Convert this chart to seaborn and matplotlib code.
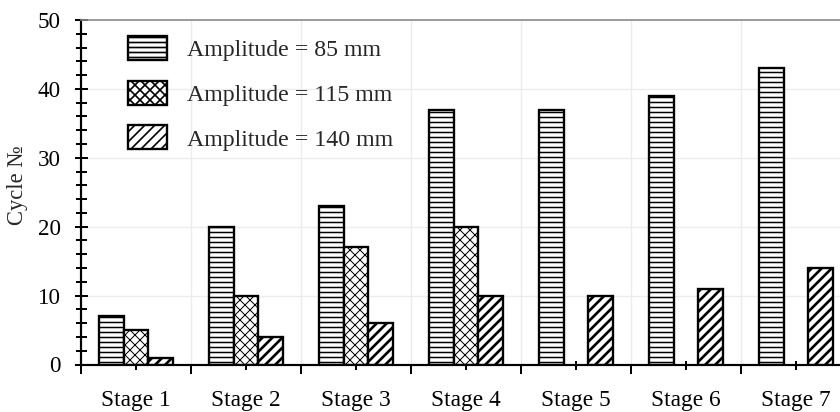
import numpy as np
import pandas as pd
import matplotlib
matplotlib.use("Agg")
import matplotlib.pyplot as plt
from matplotlib.ticker import MultipleLocator, FixedLocator
import seaborn as sns

# Cycle counts per loading stage for each amplitude
stages = ["Stage 1", "Stage 2", "Stage 3", "Stage 4", "Stage 5", "Stage 6", "Stage 7"]
amplitudes = ["Amplitude = 85 mm", "Amplitude = 115 mm", "Amplitude = 140 mm"]
cycles_85 = [7, 20, 23, 37, 37, 39, 43]
cycles_115 = [5, 10, 17, 20, np.nan, np.nan, np.nan]
cycles_140 = [1, 4, 6, 10, 10, 11, 14]
y_ticks = [0, 10, 20, 30, 40, 50]

hatches = ["----", "xxxx", "////"]
hatch_widths = [0.9, 0.6, 1.6]

df = pd.DataFrame({
    "stage": stages * 3,
    "amp": [amplitudes[0]] * 7 + [amplitudes[1]] * 7 + [amplitudes[2]] * 7,
    "cycles": cycles_85 + cycles_115 + cycles_140,
}).dropna()

sns.set_theme(style="white")
plt.rcParams["font.family"] = ["Liberation Serif", "DejaVu Serif"]
plt.rcParams["hatch.linewidth"] = 1.0
plt.rcParams["hatch.color"] = "black"

fig = plt.figure(figsize=(7.0, 412 / 120), dpi=120)
ax = fig.add_axes([81 / 840, 47.5 / 412, 770 / 840, 344.5 / 412])

sns.barplot(data=df, x="stage", y="cycles", hue="amp", order=stages,
            hue_order=amplitudes, palette=["white"] * 3, saturation=1,
            edgecolor="black", linewidth=1.4, width=0.667, legend=False,
            errorbar=None, ax=ax)

for cont, h, hw in zip(ax.containers, hatches, hatch_widths):
    for p in cont.patches:
        p.set_hatch(h)
        p.set_edgecolor("black")
        if hasattr(p, "set_hatch_linewidth"):
            p.set_hatch_linewidth(hw)

ax.set_xlim(-0.5, len(stages) - 0.5)
ax.set_ylim(0, 50)
ax.set_yticks(y_ticks)
ax.yaxis.set_minor_locator(MultipleLocator(2))
ax.xaxis.set_minor_locator(FixedLocator(np.arange(len(stages) + 1) - 0.5))

ax.set_xlabel("")
ax.set_ylabel("Cycle №", fontsize=13.5)
ax.yaxis.set_label_coords(-0.069, 0.52)

ax.tick_params(axis="x", which="major", direction="inout", length=5.4,
               width=1.2, color="black", pad=12.6, labelsize=14,
               labelcolor="black")
ax.tick_params(axis="x", which="minor", direction="out", length=5.4,
               width=1.2, color="black")
ax.tick_params(axis="y", which="major", direction="inout", length=7.8,
               width=1.2, color="black", pad=8.1, labelsize=13.8,
               labelcolor="black")
ax.tick_params(axis="y", which="minor", direction="inout", length=6.6,
               width=1.2, color="black")
ax.tick_params(left=True, bottom=True, which="both")

ax.set_axisbelow(True)
ax.grid(which="major", axis="y", color="#ececec", linewidth=0.8)
ax.grid(which="minor", axis="x", color="#ececec", linewidth=0.8)
ax.grid(which="major", axis="x", visible=False)

for side in ("left", "bottom"):
    ax.spines[side].set_color("black")
    ax.spines[side].set_linewidth(1.3)
ax.spines["top"].set_color("#8c8c8c")
ax.spines["top"].set_linewidth(1.0)
ax.spines["right"].set_visible(False)

ax.legend(ax.containers, amplitudes, loc="upper left",
          bbox_to_anchor=(0.061, 0.954), frameon=False, fontsize=14.3,
          handlelength=1.63, handleheight=1.17, handletextpad=0.83,
          labelspacing=0.83, borderpad=0, borderaxespad=0)

fig.savefig("out.png", dpi=120)
